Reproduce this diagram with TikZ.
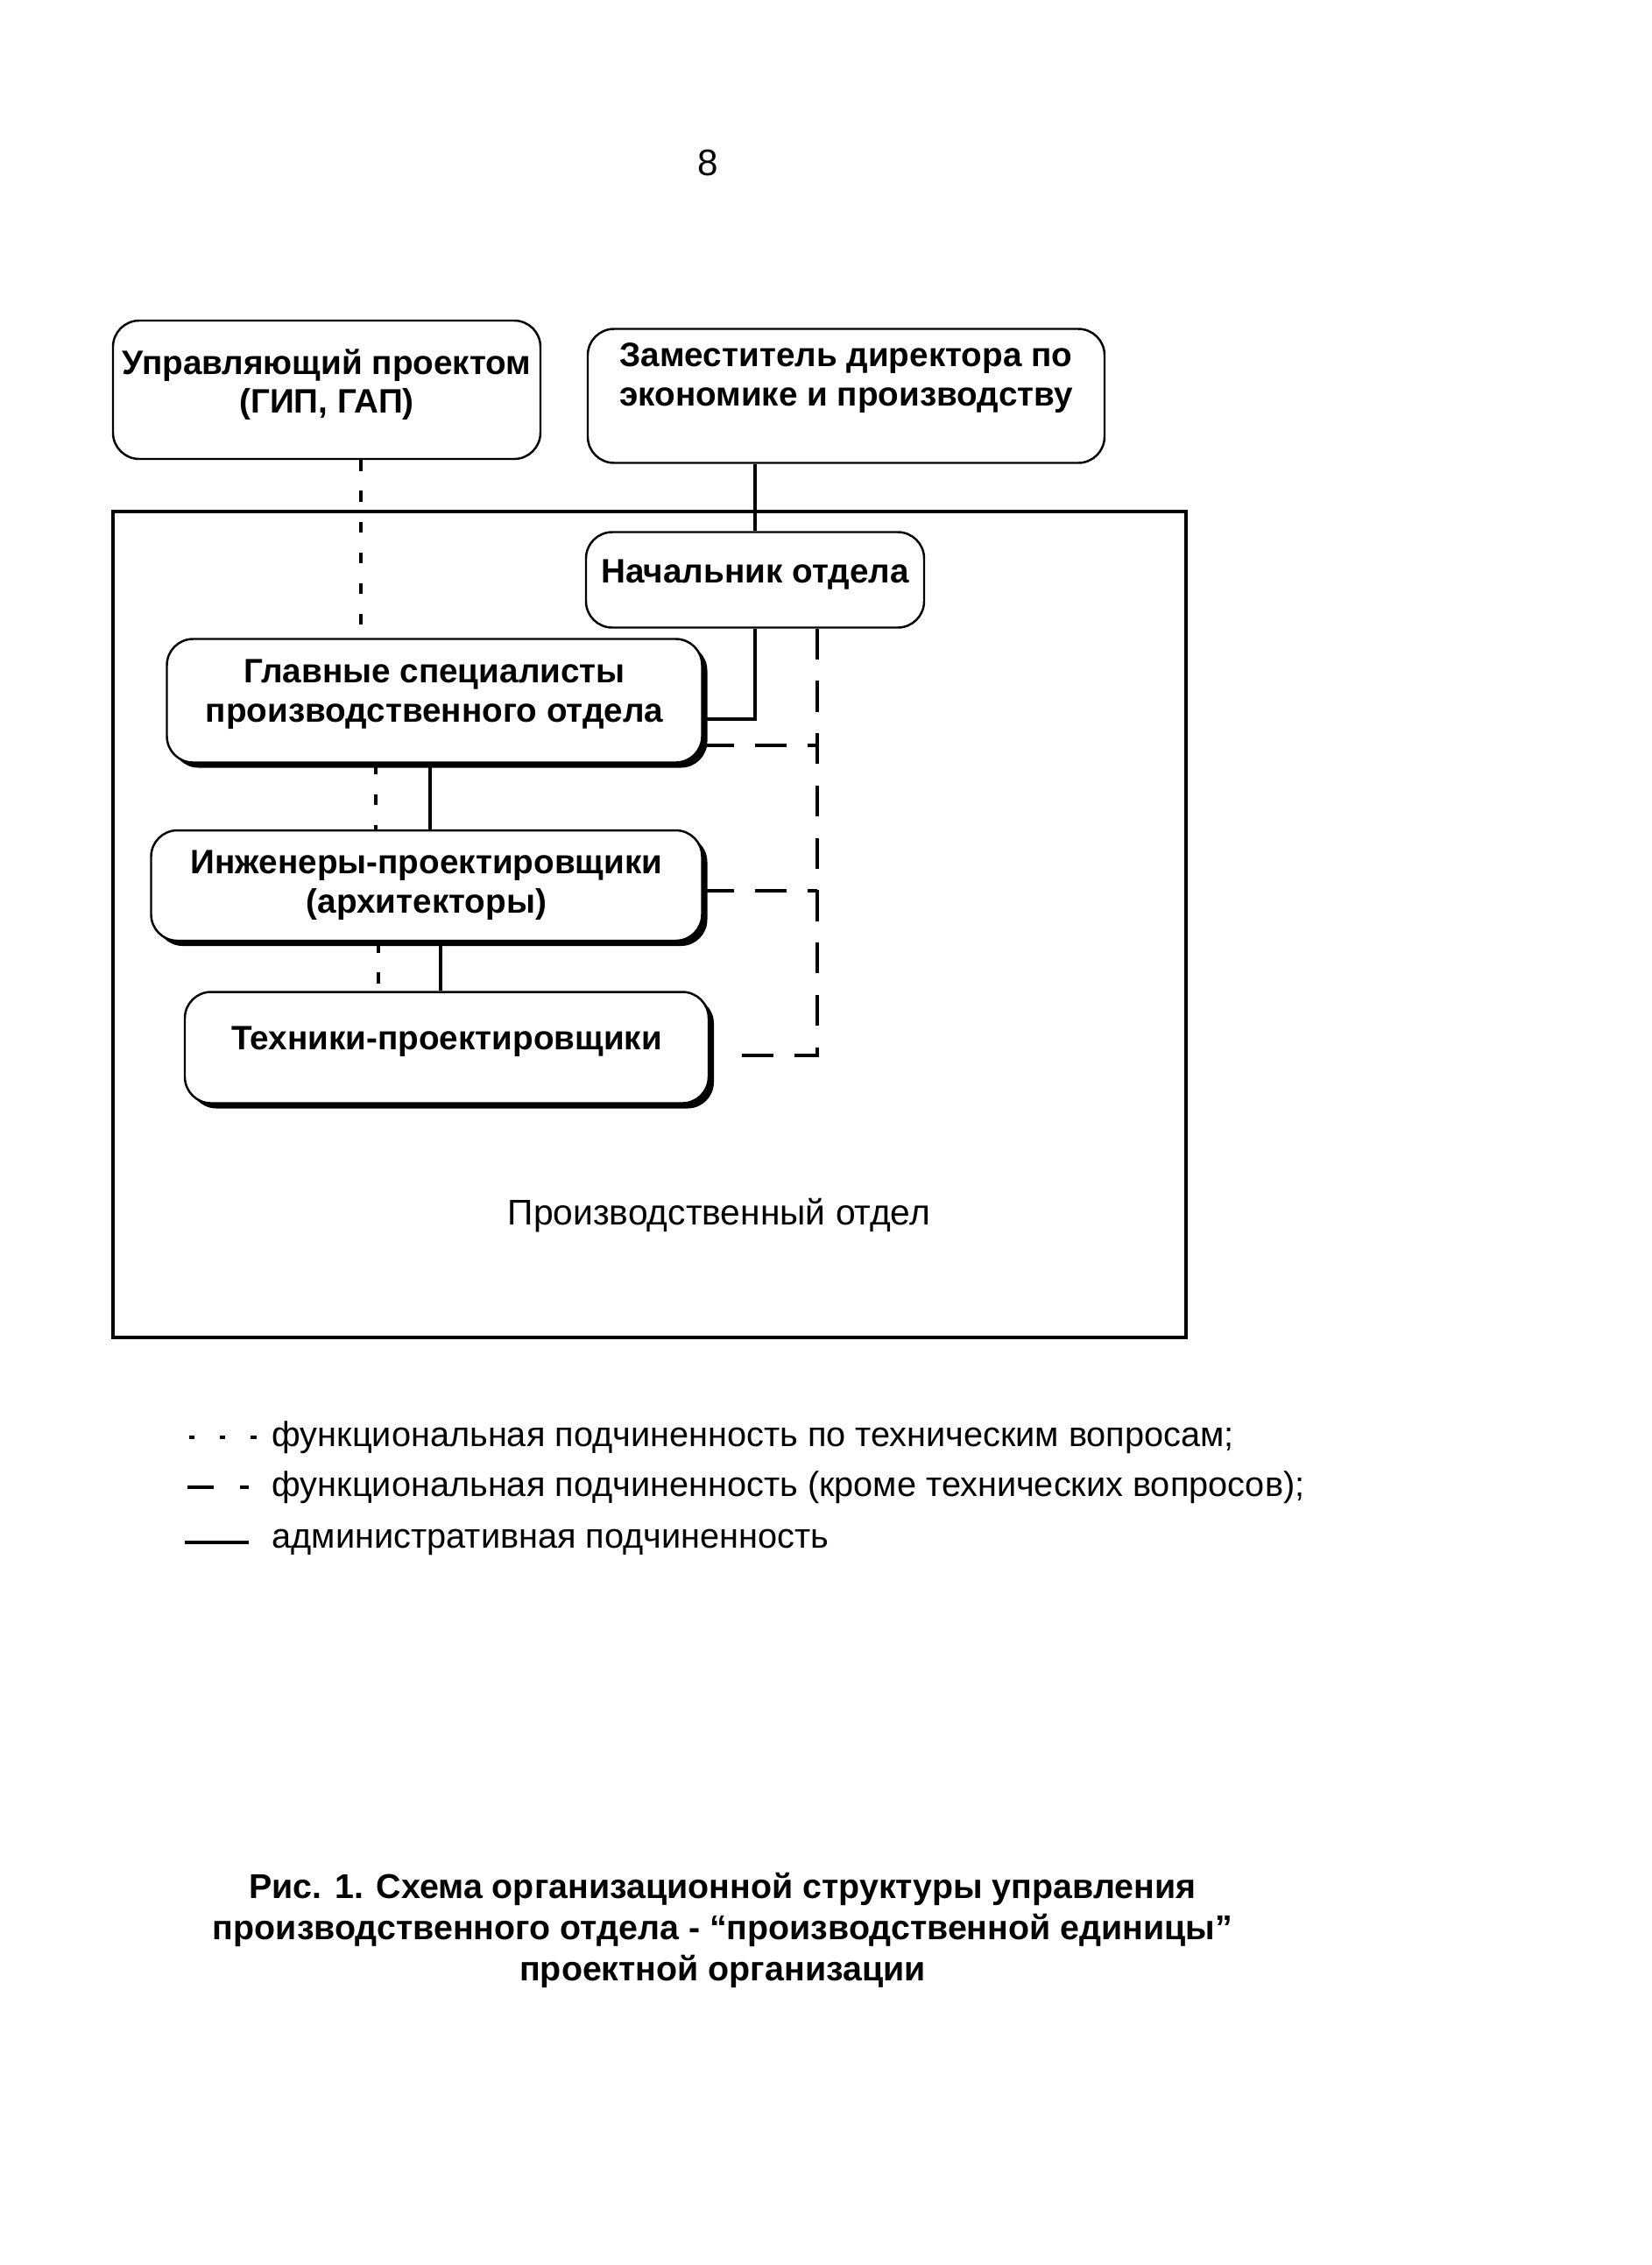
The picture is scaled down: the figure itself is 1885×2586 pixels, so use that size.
\documentclass[tikz,border=0pt]{standalone}
\usepackage{fontspec}
\setmainfont{Liberation Sans}
\usetikzlibrary{shadows}
\newcommand{\lift}[1]{\rule[-#1]{0pt}{0pt}}

\begin{document}
\begin{tikzpicture}[x=0.1mm, y=-0.1mm,
    unit/.style={rectangle, rounded corners=3mm, draw, line width=0.7pt, fill=white, align=center, inner sep=1pt, font=\fontsize{11}{12.7}\selectfont\bfseries},
    shadowed/.style={unit, drop shadow={shadow xshift=0.6mm, shadow yshift=-0.6mm, fill=black, opacity=1}},
    admin/.style={line width=0.9pt},
    tech/.style={line width=0.9pt, dash pattern=on 3.5pt off 6.5pt},
    func/.style={line width=0.9pt, dash pattern=on 10pt off 7pt}]

    \useasboundingbox (0,0) rectangle (1885,2586);

    % page number
    \node[font=\fontsize{12}{14}\selectfont] (pagenum) at (808,186) {8};

    % production department frame
    \node[draw, line width=1.2pt, minimum width=122.5mm, minimum height=94.3mm, anchor=north west] (dept) at (127,582) {};
    \node[font=\fontsize{11.6}{14}\selectfont] (deptname) at (821,1388) {Производственный отдел};

    % boxes
    \node[unit, minimum width=48.8mm, minimum height=15.8mm] (gip) at (373,445) {Управляющий проектом\\(ГИП, ГАП)\lift{5.7pt}};
    \node[unit, minimum width=59mm, minimum height=15.3mm] (deputy) at (966,452) {Заместитель директора по\\экономике и производству\lift{14pt}};
    \node[unit, minimum width=38.6mm, minimum height=10.9mm] (head) at (862,662) {Начальник отдела\lift{5.4pt}};
    \node[shadowed, minimum width=61.1mm, minimum height=14.1mm] (chief) at (496,800) {Главные специалисты\\производственного отдела\lift{6.3pt}};
    \node[shadowed, minimum width=62.9mm, minimum height=12.6mm] (eng) at (487,1011) {Инженеры-проектировщики\\(архитекторы)};
    \node[shadowed, minimum width=59.8mm, minimum height=12.7mm] (tech) at (510,1196) {Техники-проектировщики\lift{6pt}};

    % administrative lines
    \draw[admin] (head.north) -- (head.north |- deputy.south);
    \draw[admin] (head.south) -- (head.south |- 0,821) -- (chief.east |- 0,821);
    \draw[admin] (491,0 |- chief.south) -- (491,0 |- eng.north);
    \draw[admin] (503,0 |- eng.south) -- (503,0 |- tech.north);

    % technical lines
    \draw[tech] (412,0 |- gip.south) -- (412,0 |- chief.north);
    \draw[tech] (429,0 |- chief.south) -- (429,0 |- eng.north);
    \draw[tech] (432,0 |- eng.south) -- (432,0 |- tech.north);

    % functional lines
    \draw[func] (933,0 |- head.south) -- (933,1205) -- ([xshift=1.5mm]tech.east |- 0,1205);
    \draw[func] (chief.east |- 0,851) -- (933,851);
    \draw[func] (eng.east |- 0,1017) -- (933,1017);

    % legend
    \draw[line width=1pt, dash pattern=on 1.8pt off 8.2pt] (216,1641) -- (295,1641);
    \draw[line width=1pt, dash pattern=on 8.5pt off 8.5pt on 2.8pt off 5pt] (214,1698) -- (284,1698);
    \draw[line width=1pt] (211,1761) -- (284,1761);
    \node[anchor=west, inner sep=0pt, font=\fontsize{11.3}{14}\selectfont] (legtech) at (310,1641) {функциональная подчиненность по техническим вопросам;};
    \node[anchor=west, inner sep=0pt, font=\fontsize{11.3}{14}\selectfont] (legfunc) at (310,1698) {функциональная подчиненность (кроме технических вопросов);};
    \node[anchor=west, inner sep=0pt, font=\fontsize{11.3}{14}\selectfont] (legadmin) at (310,1761) {административная подчиненность};

    % caption
    \node[align=center, font=\fontsize{11.2}{13.4}\selectfont\bfseries] (caption) at (825,2204) {Рис. 1. Схема организационной структуры управления\\производственного отдела - “производственной единицы”\\проектной организации};
\end{tikzpicture}
\end{document}
